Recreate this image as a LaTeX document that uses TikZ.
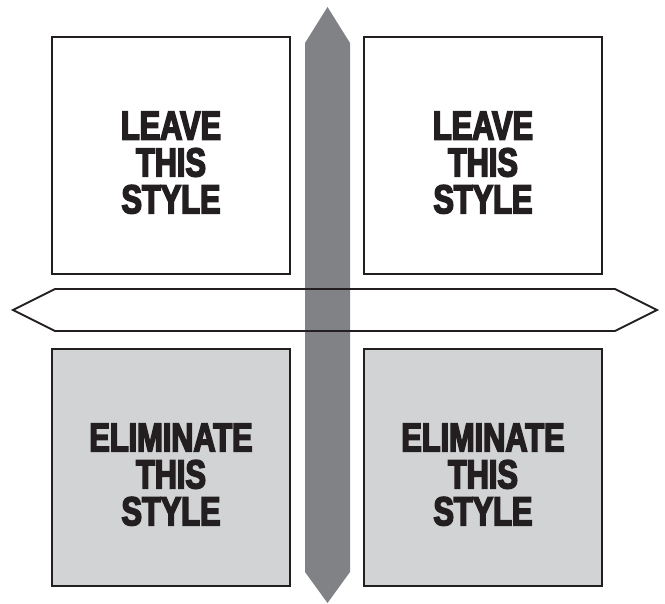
\documentclass[tikz,border=0pt]{standalone}
\usepackage{fontspec}
\usepackage{tikz}
\usetikzlibrary{positioning}
\newfontfamily\quadfont{Liberation Sans}[FakeStretch=0.76,BoldFeatures={FakeBold=4}]
\definecolor{cInk}{RGB}{35,31,32}
\definecolor{cBar}{RGB}{128,130,134}
\definecolor{cPale}{RGB}{209,211,212}
\tikzset{
  quadbox/.style={rectangle,draw=cInk,line width=1.1pt,align=center,
                  minimum width=4.76cm,minimum height=4.74cm,outer sep=0pt,
                  font=\quadfont\bfseries\fontsize{23}{21}\selectfont,
                  text=cInk,text height=66pt},
  keepnode/.style={quadbox,fill=white},
  dropnode/.style={quadbox,fill=cPale},
  axisline/.style={draw=cInk,line width=1.1pt,line join=miter}
}
\begin{document}
\begin{tikzpicture}[x=0.02cm,y=-0.02cm]
  \useasboundingbox (0,0) rectangle (665,604);
  % quadrants
  \node[keepnode] (keepL) at (171,155.5) {LEAVE\\THIS\\STYLE};
  \node[keepnode,right=1.48cm of keepL] (keepR) {LEAVE\\THIS\\STYLE};
  \node[dropnode,below=1.5cm of keepL] (dropL) {ELIMINATE\\THIS\\STYLE};
  \node[dropnode,right=1.48cm of dropL] (dropR) {ELIMINATE\\THIS\\STYLE};
  % axes
  \fill[white] (13,310) -- (55,289) -- (615,289) -- (657,310) -- (615,331) -- (55,331) -- cycle;
  \fill[cBar] (327.5,7) -- (350,43) -- (350,572) -- (327.5,603) -- (305,572) -- (305,43) -- cycle;
  \draw[axisline] (13,310) -- (55,289) -- (615,289) -- (657,310) -- (615,331) -- (55,331) -- cycle;
\end{tikzpicture}
\end{document}
